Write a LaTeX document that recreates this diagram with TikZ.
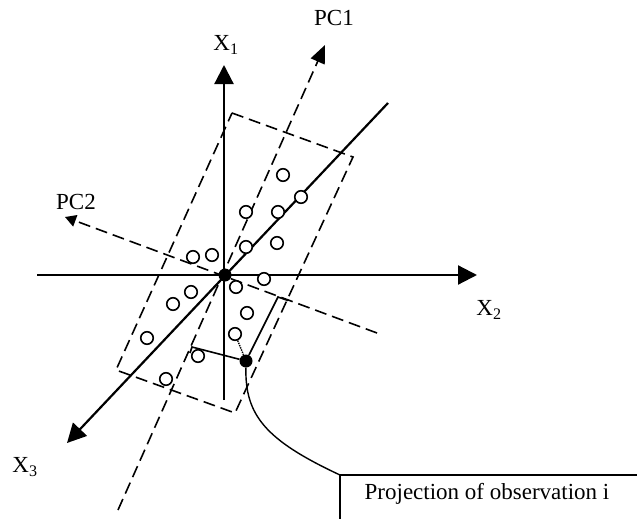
\documentclass[tikz,border=0pt]{standalone}
\usepackage{fontspec}
\setmainfont{Liberation Serif}
\usetikzlibrary{arrows.meta}
\begin{document}
\begin{tikzpicture}[x=1pt,y=-1pt,
  axis/.style={line width=2.2pt, -{Triangle[length=19pt,width=19pt]}},
  pcline/.style={line width=1.6pt, dash pattern=on 12pt off 6pt},
  obs/.style={circle, draw, line width=1.6pt, minimum size=12.5pt, inner sep=0pt, fill=white},
  blk/.style={circle, fill=black, minimum size=13pt, inner sep=0pt},
  lbl/.style={font=\fontsize{23}{26}\selectfont, inner sep=0pt},
  projl/.style={line width=1.6pt},
]
\useasboundingbox (0,0) rectangle (637,519);
% named points
\coordinate (x1s) at (224,400); \coordinate (x1e) at (224,65);
\coordinate (x2s) at (37,275);  \coordinate (x2e) at (477,275);
\coordinate (x3s) at (388,103); \coordinate (x3e) at (67,443);
\coordinate (pc1s) at (118,510); \coordinate (pc1e) at (325,45);
\coordinate (pc2s) at (377,333); \coordinate (pc2e) at (65,217);
\coordinate (r1) at (232,113); \coordinate (r2) at (353,157);
\coordinate (r3) at (235,413); \coordinate (r4) at (116,370);
\coordinate (A) at (278,297); \coordinate (A2) at (288,300.5);
\coordinate (B) at (192,347); \coordinate (B2) at (190,353);
\coordinate (C) at (340,475); \coordinate (Cr) at (637,475); \coordinate (Cb) at (340,519);
% dashed rectangle and PC axes
\draw[pcline] (r1) -- (r2) -- (r3) -- (r4) -- cycle;
\draw[pcline, -{Triangle[length=18pt,width=15pt]}] (pc1s) -- (pc1e);
\draw[pcline, -{Triangle[length=11pt,width=12pt]}] (pc2s) -- (pc2e);
% original axes
\draw[axis] (x1s) -- (x1e);
\draw[axis] (x2s) -- (x2e);
\draw[axis] (x3s) -- (x3e);
% projection construction
\node[blk] (P) at (246,361) {};
\draw[projl] (P) -- (A) -- (A2);
\draw[projl] (P) -- (B) -- (B2);
% observations
\foreach \n/\px/\py in {1/283/175, 2/301/197, 3/246/212, 4/278/212, 5/246/247, 6/277/243,
  7/193/257, 8/212/255, 9/264/279, 10/236/287, 11/191/292, 12/173/304, 13/247/313,
  14/147/338, 15/198/356, 16/166/379}
  \node[obs] (o\n) at (\px,\py) {};
\node[obs] (oi) at (235,334) {};
\draw[line width=1.4pt, densely dotted] (oi) -- (P);
\node[blk] (O) at (225,275) {};
% callout
\draw[line width=1.4pt] (P) .. controls (245,415) and (265,440) .. (C);
\draw[line width=1.4pt] (Cr) -- (C) -- (Cb);
\node[lbl] (proj) at (487,494) {Projection of observation i};
% labels
\node[lbl] (lx1) at (226,45) {X\textsubscript{1}};
\node[lbl] (lx2) at (489,310) {X\textsubscript{2}};
\node[lbl] (lx3) at (25,467) {X\textsubscript{3}};
\node[lbl] (lpc1) at (334,18) {PC1};
\node[lbl] (lpc2) at (76,202) {PC2};
\end{tikzpicture}
\end{document}
